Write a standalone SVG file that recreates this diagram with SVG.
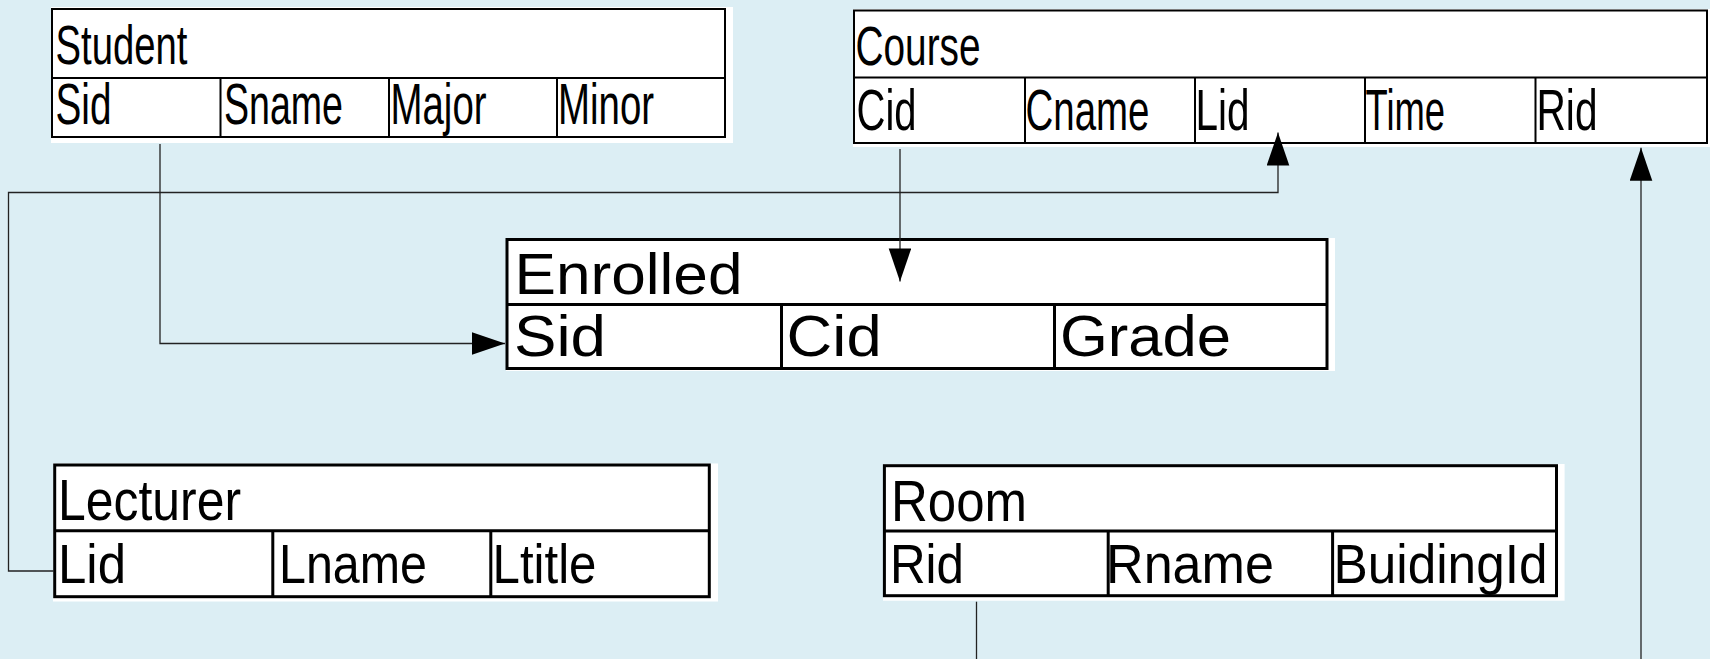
<svg xmlns="http://www.w3.org/2000/svg" width="1710" height="659" viewBox="0 0 1710 659">
<style>
.bg{fill:#dceef4}
.pad{fill:#ffffff}
.box{fill:#ffffff;stroke:#000000}
.thin{stroke-width:2}
.thick{stroke-width:3}
.ln{stroke:#000000;fill:none}
.t{font-family:"Liberation Sans",Arial,sans-serif;fill:#000000}
.conn{stroke:#222222;stroke-width:1.3;fill:none}
</style>
<defs>
<marker id="arr" markerUnits="userSpaceOnUse" markerWidth="34" markerHeight="24" refX="33" refY="11.3" orient="auto">
<path d="M0,0 L33,11.3 L0,22.6 Z" fill="#000000"/>
</marker>
</defs>
<rect class="bg" x="0" y="0" width="1710" height="659"/>

<g id="student">
<rect class="pad" x="51" y="7" width="682" height="136"/>
<rect class="box thin" x="52" y="9" width="673" height="128"/>
<path class="ln thin" d="M52 78H725M220.5 78V137M389 78V137M557 78V137"/>
<text class="t" transform="translate(55.5,64) scale(0.696,1)" font-size="55">Student</text>
<text class="t" transform="translate(55.5,124) scale(0.68,1)" font-size="57">Sid</text>
<text class="t" transform="translate(224,124) scale(0.659,1)" font-size="57">Sname</text>
<text class="t" transform="translate(390.5,124) scale(0.674,1)" font-size="57">Major</text>
<text class="t" transform="translate(558,124) scale(0.674,1)" font-size="57">Minor</text>
</g>

<g id="course">
<rect class="pad" x="853" y="9" width="857" height="138"/>
<rect class="box thin" x="854" y="10.5" width="853" height="132.5"/>
<path class="ln thin" d="M854 77.5H1707M1025 77.5V143M1195 77.5V143M1365 77.5V143M1535.5 77.5V143"/>
<text class="t" transform="translate(855.5,65) scale(0.693,1)" font-size="56">Course</text>
<text class="t" transform="translate(856.5,129.5) scale(0.69,1)" font-size="58">Cid</text>
<text class="t" transform="translate(1025.5,129.5) scale(0.663,1)" font-size="58">Cname</text>
<text class="t" transform="translate(1195.5,129.5) scale(0.698,1)" font-size="58">Lid</text>
<text class="t" transform="translate(1365.5,129.5) scale(0.628,1)" font-size="58">Time</text>
<text class="t" transform="translate(1536.5,129.5) scale(0.701,1)" font-size="58">Rid</text>
</g>

<g id="enrolled">
<rect class="pad" x="506" y="238" width="829" height="133"/>
<rect class="box thick" x="507" y="239.5" width="820" height="129"/>
<path class="ln thick" d="M507 304.5H1327M781.5 304.5V368.5M1054.5 304.5V368.5"/>
<text class="t" x="514.5" y="294" font-size="58" textLength="228" lengthAdjust="spacingAndGlyphs">Enrolled</text>
<text class="t" x="514" y="356" font-size="58" textLength="92" lengthAdjust="spacingAndGlyphs">Sid</text>
<text class="t" x="786.6" y="356" font-size="58" textLength="95" lengthAdjust="spacingAndGlyphs">Cid</text>
<text class="t" x="1060" y="356" font-size="58" textLength="171" lengthAdjust="spacingAndGlyphs">Grade</text>
</g>

<g id="lecturer">
<rect class="pad" x="53" y="463.5" width="665" height="138"/>
<rect class="box thick" x="54.7" y="465" width="654.6" height="131.7"/>
<path class="ln thick" d="M54.7 530.7H709.3M272.8 530.7V596.7M490.8 530.7V596.7"/>
<text class="t" x="58" y="520" font-size="57" textLength="183" lengthAdjust="spacingAndGlyphs">Lecturer</text>
<text class="t" x="58" y="583.3" font-size="56" textLength="68" lengthAdjust="spacingAndGlyphs">Lid</text>
<text class="t" x="279" y="583.3" font-size="56" textLength="148" lengthAdjust="spacingAndGlyphs">Lname</text>
<text class="t" x="492.5" y="583.3" font-size="56" textLength="104" lengthAdjust="spacingAndGlyphs">Ltitle</text>
</g>

<g id="room">
<rect class="pad" x="883" y="464" width="681.6" height="136.7"/>
<rect class="box thick" x="884.4" y="465.7" width="672.1" height="130"/>
<path class="ln thick" d="M884.4 531H1556.5M1108.2 531V595.7M1332.6 531V595.7"/>
<text class="t" x="891" y="520.7" font-size="57" textLength="136" lengthAdjust="spacingAndGlyphs">Room</text>
<text class="t" x="890" y="583.3" font-size="55" textLength="74" lengthAdjust="spacingAndGlyphs">Rid</text>
<text class="t" x="1106" y="583.3" font-size="55" textLength="168" lengthAdjust="spacingAndGlyphs">Rname</text>
<text class="t" x="1333.5" y="583.3" font-size="55" textLength="214" lengthAdjust="spacingAndGlyphs">BuidingId</text>
</g>

<g id="connectors">
<path class="conn" d="M160 144V343.5H505" marker-end="url(#arr)"/>
<path class="conn" d="M900 149V281.4" marker-end="url(#arr)"/>
<path class="conn" d="M54 571H8.5V192.5H1278V132.5" marker-end="url(#arr)"/>
<path class="conn" d="M976.5 601.7V659"/>
<path class="conn" d="M1641 659V147.7" marker-end="url(#arr)"/>
</g>
</svg>
